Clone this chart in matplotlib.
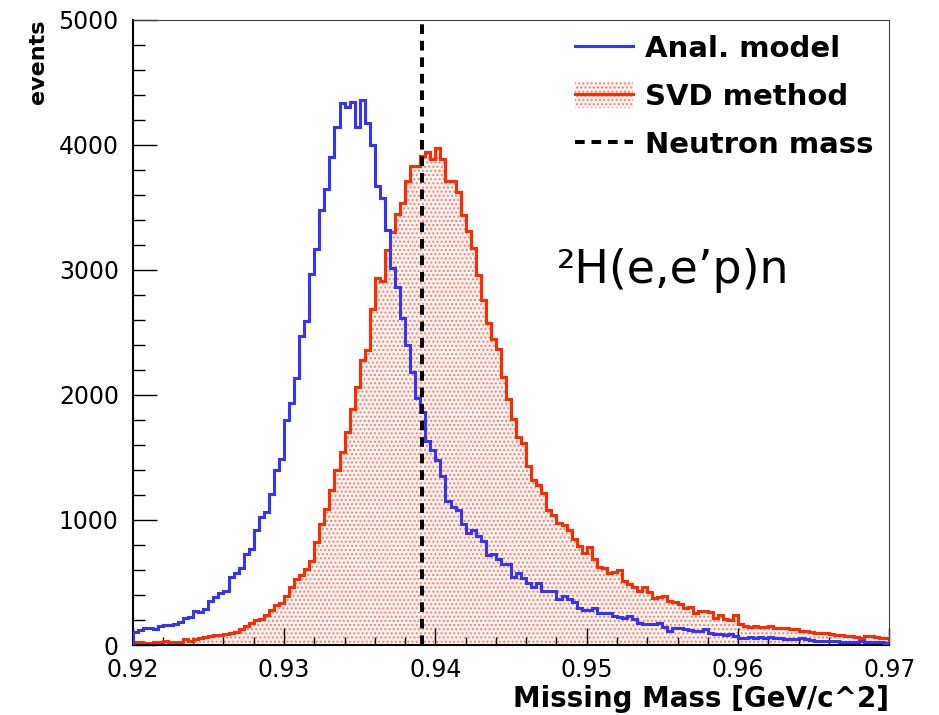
import numpy as np
import matplotlib.pyplot as plt
from matplotlib.lines import Line2D
from matplotlib.patches import Patch
from matplotlib.ticker import MultipleLocator, FormatStrFormatter

# Histogram binning (150 bins, 0.92 - 0.97 GeV)
x_min, x_max, n_bins = 0.92, 0.97, 150
neutron_mass = 0.9391

# bin contents
anal_model = [
    107, 120, 133, 133, 125, 152, 160, 160, 165, 187,
    213, 221, 275, 267, 288, 355, 381, 413, 435, 541,
    573, 613, 728, 765, 920, 1021, 1067, 1208, 1395, 1485,
    1802, 1933, 2137, 2471, 2587, 2965, 3169, 3474, 3648, 3904,
    4142, 4331, 4302, 4340, 4142, 4360, 4171, 3997, 3671, 3575,
    3314, 3014, 2858, 2616, 2398, 2180, 1977, 1865, 1628, 1560,
    1475, 1352, 1155, 1107, 1080, 968, 893, 920, 872, 835,
    720, 728, 685, 648, 648, 547, 573, 533, 493, 461,
    493, 432, 432, 432, 368, 395, 368, 343, 297, 280,
    280, 293, 259, 259, 259, 232, 221, 219, 235, 205,
    179, 168, 168, 165, 179, 147, 115, 133, 133, 125,
    120, 115, 115, 125, 93, 88, 85, 80, 88, 75,
    59, 59, 61, 53, 61, 53, 67, 59, 53, 48,
    48, 45, 53, 45, 40, 35, 35, 35, 35, 29,
    27, 27, 27, 27, 29, 21, 24, 27, 27, 13,
]

svd_method = [
    21, 21, 13, 18, 21, 21, 35, 27, 27, 27,
    45, 35, 45, 53, 67, 75, 77, 80, 88, 99,
    104, 125, 152, 179, 200, 205, 240, 280, 320, 334,
    393, 466, 524, 562, 611, 669, 823, 968, 1090, 1236,
    1396, 1541, 1701, 1890, 2064, 2282, 2355, 2683, 2936, 2907,
    3160, 3300, 3445, 3530, 3706, 3830, 3830, 3910, 3939, 3885,
    3970, 3885, 3712, 3712, 3619, 3440, 3307, 3173, 2960, 2755,
    2573, 2445, 2365, 2141, 1965, 1805, 1661, 1613, 1427, 1320,
    1280, 1213, 1080, 1040, 973, 960, 920, 845, 790, 733,
    781, 688, 627, 613, 573, 587, 600, 512, 488, 467,
    435, 461, 427, 373, 381, 392, 355, 347, 325, 299,
    307, 253, 275, 275, 267, 213, 240, 205, 200, 240,
    168, 152, 147, 152, 141, 147, 152, 139, 133, 133,
    125, 125, 115, 115, 101, 93, 97, 93, 88, 80,
    80, 75, 72, 61, 53, 72, 68, 61, 53, 53,
]

labels = ["Anal. model", "SVD method", "Neutron mass"]

blue = "#3333ff"
red = "#ff2a00"
fill_face = "#fff6f4"
fill_dots = "#ff7a66"

edges = np.linspace(x_min, x_max, n_bins + 1)

fig = plt.figure(figsize=(9.39, 7.15), dpi=100)
ax = fig.add_axes([0.1413, 0.0979, 0.8059, 0.8748])

# SVD histogram: dotted fill + outline
ax.stairs(svd_method, edges, fill=True, facecolor=fill_face,
          edgecolor=fill_dots, hatch="....", linewidth=0, zorder=1)
ax.stairs(svd_method, edges, color=red, linewidth=2.2, zorder=2)
ax.stairs(anal_model, edges, color=blue, linewidth=2.2, zorder=3)

dash = (0, (2.4, 1.7))
ax.axvline(neutron_mass, color="black", linewidth=2.9, linestyle=dash, zorder=4)

# Axes settings (ROOT look)
ax.set_xlim(x_min, x_max)
ax.set_ylim(0, 5000)
ax.xaxis.set_major_locator(MultipleLocator(0.01))
ax.xaxis.set_minor_locator(MultipleLocator(0.002))
ax.yaxis.set_major_locator(MultipleLocator(1000))
ax.yaxis.set_minor_locator(MultipleLocator(200))
ax.xaxis.set_major_formatter(FormatStrFormatter("%.2f"))
ax.yaxis.set_major_formatter(FormatStrFormatter("%d"))

ax.tick_params(which="both", direction="in", top=False, right=False,
               width=1.0, colors="black", labelsize=17)
ax.tick_params(axis="y", which="major", length=17.3, pad=10)
ax.tick_params(axis="y", which="minor", length=8.6)
ax.tick_params(axis="x", which="major", length=12.2, pad=9.5)
ax.tick_params(axis="x", which="minor", length=5.8)

for side in ["left", "bottom"]:
    ax.spines[side].set_linewidth(1.5)
    ax.spines[side].set_color("black")
for side in ["top", "right"]:
    ax.spines[side].set_linewidth(0.8)
    ax.spines[side].set_color("#444444")

ax.set_xlabel("Missing Mass [GeV/c^2]", loc="right", fontsize=20,
              fontweight="bold", labelpad=2)
ax.set_ylabel("events", loc="top", fontsize=16, fontweight="bold")
ax.yaxis.set_label_coords(-0.112, 1.0)

ax.text(557 / 939, 1 - 283 / 715, "²H(e,e’p)n", transform=fig.transFigure,
        fontsize=33, ha="left", va="baseline")

# Legend
h_blue = Line2D([], [], color=blue, linewidth=2.2)
h_red = (Patch(facecolor=fill_face, edgecolor=fill_dots, hatch="....", linewidth=0),
         Line2D([], [], color=red, linewidth=2.2))
h_dash = Line2D([], [], color="black", linewidth=2.9, linestyle=dash)
ax.legend([h_blue, h_red, h_dash], labels, loc="upper left",
          bbox_to_anchor=(575 / 939, 1 - 34 / 715), bbox_transform=fig.transFigure,
          frameon=False, prop=dict(weight="bold", size=21),
          handlelength=2.0, handleheight=1.0, handletextpad=0.4,
          labelspacing=0.65, borderpad=0, borderaxespad=0)

fig.savefig("out.png", dpi=100)
